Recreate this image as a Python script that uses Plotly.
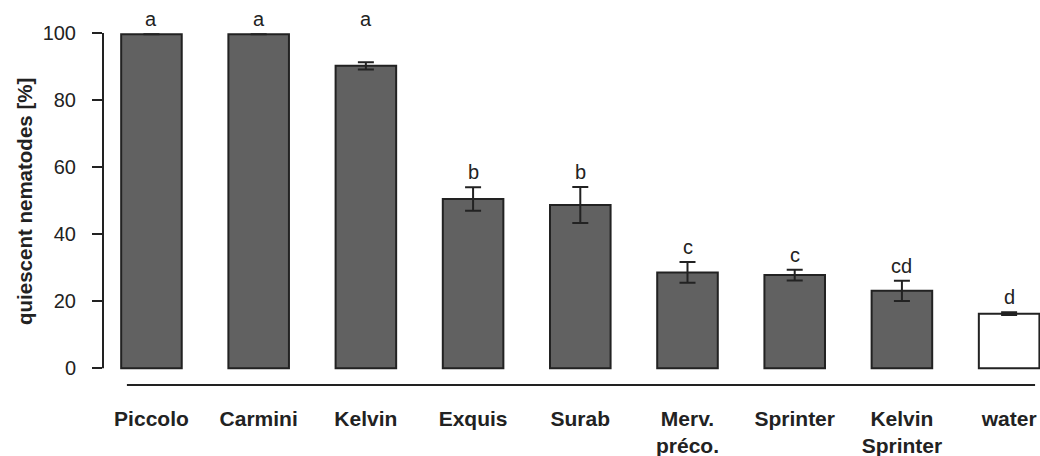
import plotly.graph_objects as go

categories = ["Piccolo", "Carmini", "Kelvin", "Exquis", "Surab",
              "Merv.<br>préco.", "Sprinter", "Kelvin<br>Sprinter", "water"]
values = [99.6, 99.6, 90.2, 50.5, 48.7, 28.6, 27.8, 23.1, 16.3]
errors = [0.0, 0.0, 1.1, 3.5, 5.4, 3.1, 1.6, 3.0, 0.4]
letters = ["a", "a", "a", "b", "b", "c", "c", "cd", "d"]
fills = ["#616161"] * 8 + ["#ffffff"]

x_idx = list(range(len(categories)))
INK = "#222222"
FONT = "Liberation Sans, Arial, sans-serif"

fig = go.Figure()
fig.add_trace(go.Bar(
    x=x_idx, y=values, width=0.565,
    marker=dict(color=fills, line=dict(color=INK, width=2)),
    error_y=dict(type="data", array=errors, visible=True,
                 thickness=2, width=8, color=INK),
    showlegend=False, hoverinfo="skip",
))

top_a = max(values)
for i, (v, e, L) in enumerate(zip(values, errors, letters)):
    top = top_a if L == "a" else v + e
    fig.add_annotation(x=i, y=top, text=L, showarrow=False,
                       yanchor="middle", yshift=15,
                       font=dict(family=FONT, size=20, color=INK))

# y axis line (0..100) and detached x baseline
fig.add_shape(type="line", xref="paper", yref="y", x0=0, x1=0, y0=0, y1=100,
              line=dict(color=INK, width=2))
fig.add_shape(type="line", xref="x", yref="y", x0=-0.229, x1=8.242, y0=-5, y1=-5,
              line=dict(color=INK, width=2))

fig.add_annotation(xref="paper", yref="paper", x=-0.084, y=0.483,
                   text="<b>quiescent nematodes [%]</b>", textangle=-90,
                   showarrow=False, xanchor="center", yanchor="middle",
                   font=dict(family=FONT, size=20.5, color=INK))

fig.update_layout(
    width=1040, height=456,
    margin=dict(l=103, r=0, t=0, b=66),
    plot_bgcolor="white", paper_bgcolor="white",
    bargap=0.4,
)
fig.update_xaxes(
    range=[-0.452, 8.288], tickmode="array", tickvals=x_idx,
    ticktext=[f"<b>{c}</b>" for c in categories],
    showline=False, showgrid=False, zeroline=False, ticks="",
    tickfont=dict(family=FONT, size=21, color=INK),
    ticklabelstandoff=14,
)
fig.update_yaxes(
    range=[-6.47, 109.84], tickmode="array", tickvals=[0, 20, 40, 60, 80, 100],
    showline=False, showgrid=False, zeroline=False,
    ticks="outside", ticklen=10, tickwidth=2, tickcolor=INK,
    tickfont=dict(family=FONT, size=20, color=INK),
    ticklabelstandoff=12,
)

fig.write_html("out.html", config={"displayModeBar": False},
               post_script="document.body.style.margin='0';document.body.style.overflow='hidden';")
